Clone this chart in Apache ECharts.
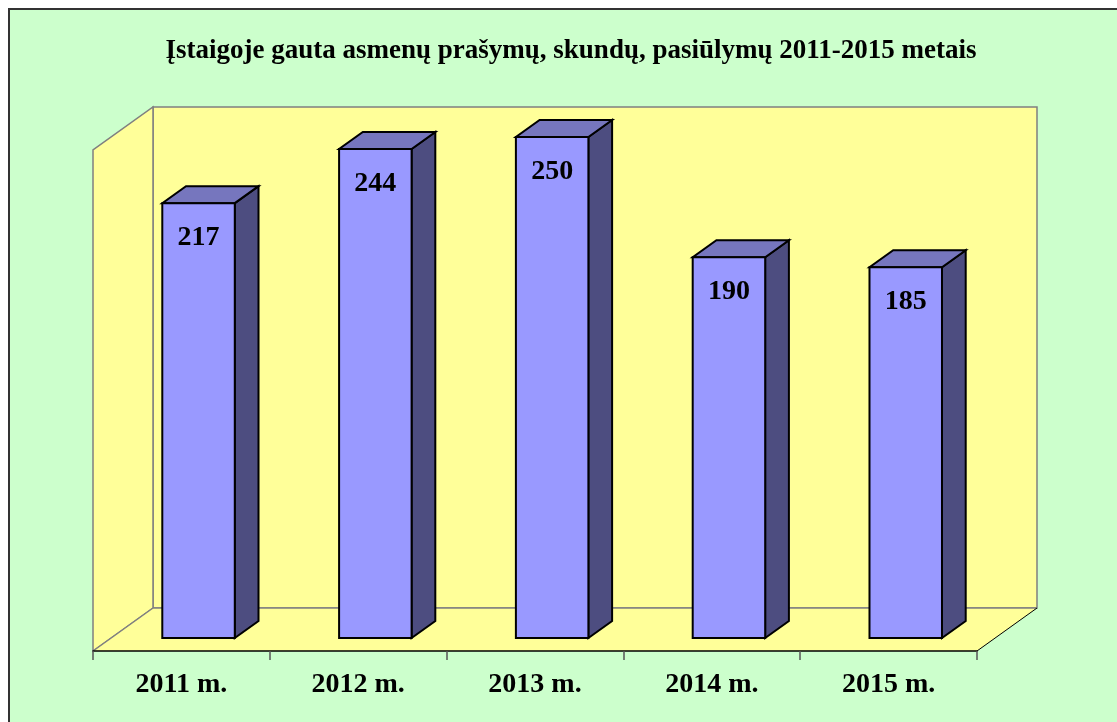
<!DOCTYPE html>
<html>
<head>
<meta charset="utf-8">
<script src="https://cdn.jsdelivr.net/npm/echarts@6/dist/echarts.min.js"></script>
<style>
    html, body { margin: 0; padding: 0; background: #fff; }
    #main { width: 1117px; height: 722px; }
</style>
</head>
<body>
<div id="main"></div>
<script>
// 数据
var years = ['2011 m.', '2012 m.', '2013 m.', '2014 m.', '2015 m.'];
var counts = [217, 244, 250, 190, 185];
var valueMin = 0;
var valueMax = 250;

var titleText = 'Įstaigoje gauta asmenų prašymų, skundų, pasiūlymų 2011-2015 metais';
var serif = '"Liberation Serif", "Times New Roman", serif';

// 3D depth of the box (floor / walls) and of the bars
var depthX = 60, depthY = 43;
var barFront = 13 / 43;   // where bar front face sits inside the depth
var barDepth = 17 / 43;   // how deep the bar is
var barRatio = 0.41;      // bar width / band width

var wallColor = '#FFFF99';
var wallLine = '#808080';

function renderWalls(params, api) {
    var cs = params.coordSys;
    var x0 = cs.x, x1 = cs.x + cs.width;
    var yb = cs.y + cs.height, yt = cs.y;
    var style = { fill: wallColor, stroke: wallLine, lineWidth: 1.5 };
    return {
        type: 'group',
        children: [
            { // back wall
                type: 'rect',
                shape: { x: x0 + depthX, y: yt - depthY, width: cs.width, height: cs.height },
                style: style
            },
            { // side wall
                type: 'polygon',
                shape: { points: [[x0, yb], [x0, yt], [x0 + depthX, yt - depthY], [x0 + depthX, yb - depthY]] },
                style: style
            },
            { // floor
                type: 'polygon',
                shape: { points: [[x0, yb], [x1, yb], [x1 + depthX, yb - depthY], [x0 + depthX, yb - depthY]] },
                style: { fill: wallColor, stroke: null }
            },
            {
                type: 'line',
                shape: { x1: x0, y1: yb, x2: x0 + depthX, y2: yb - depthY },
                style: { stroke: wallLine, lineWidth: 1.5 }
            },
            {
                type: 'line',
                shape: { x1: x0 + depthX, y1: yb - depthY, x2: x1 + depthX, y2: yb - depthY },
                style: { stroke: wallLine, lineWidth: 1.5 }
            },
            {
                type: 'line',
                shape: { x1: x1, y1: yb, x2: x1 + depthX, y2: yb - depthY },
                style: { stroke: '#000', lineWidth: 1 }
            }
        ]
    };
}

function renderBar(params, api) {
    var idx = api.value(0);
    var val = api.value(1);
    var base = api.coord([idx, valueMin]);
    var top = api.coord([idx, val]);
    var band = api.size([1, 0])[0];
    var w = band * barRatio;
    var fx = depthX * barFront, fy = depthY * barFront;
    var dx = depthX * barDepth, dy = depthY * barDepth;
    var left = base[0] + fx - w / 2 - 1;
    var right = left + w;
    var yB = base[1] - fy;
    var yT = top[1] - fy;
    var line = { stroke: '#000', lineWidth: 2, lineJoin: 'miter' };
    return {
        type: 'group',
        children: [
            {
                type: 'polygon',
                shape: { points: [[right, yB], [right + dx, yB - dy], [right + dx, yT - dy], [right, yT]] },
                style: Object.assign({ fill: '#4D4D80' }, line)
            },
            {
                type: 'polygon',
                shape: { points: [[left, yT], [right, yT], [right + dx, yT - dy], [left + dx, yT - dy]] },
                style: Object.assign({ fill: '#7676BE' }, line)
            },
            {
                type: 'rect',
                shape: { x: left, y: yT, width: w, height: yB - yT },
                style: Object.assign({ fill: '#9999FF' }, line)
            },
            {
                type: 'text',
                x: (left + right) / 2,
                y: yT + 35,
                style: {
                    text: String(val),
                    fill: '#000',
                    font: 'bold 28px ' + serif,
                    align: 'center',
                    verticalAlign: 'middle'
                }
            }
        ]
    };
}

var chart = echarts.init(document.getElementById('main'));
var option = {
    backgroundColor: '#ffffff',
    animation: false,
    graphic: [{
        type: 'rect',
        z: -10,
        shape: { x: 9, y: 9, width: 1300, height: 900 },
        style: { fill: '#CCFFCC', stroke: '#333', lineWidth: 2 }
    }],
    title: {
        text: titleText,
        left: 566,
        top: 33,
        textAlign: 'center',
        textStyle: {
            fontFamily: serif,
            fontWeight: 'bold',
            fontSize: 27,
            color: '#000'
        }
    },
    grid: {
        left: 93,
        right: 140,
        top: 150,
        bottom: 71
    },
    xAxis: {
        type: 'category',
        data: years,
        boundaryGap: true,
        axisLine: { show: true, lineStyle: { color: '#000', width: 1.5 } },
        axisTick: { show: true, length: 9, lineStyle: { color: '#555', width: 1.5 } },
        axisLabel: {
            margin: 20,
            fontFamily: serif,
            fontWeight: 'bold',
            fontSize: 28,
            color: '#000'
        },
        splitLine: { show: false },
        z: 5
    },
    yAxis: {
        type: 'value',
        min: valueMin,
        max: valueMax,
        show: false,
        splitLine: { show: false }
    },
    series: [
        {
            type: 'custom',
            name: 'walls',
            renderItem: renderWalls,
            data: [[0, 0]],
            silent: true,
            z: 1
        },
        {
            type: 'custom',
            name: 'prašymai',
            renderItem: renderBar,
            data: counts.map(function (v, i) { return [i, v]; }),
            encode: { x: 0, y: 1 },
            z: 3
        }
    ]
};
chart.setOption(option);
</script>
</body>
</html>
